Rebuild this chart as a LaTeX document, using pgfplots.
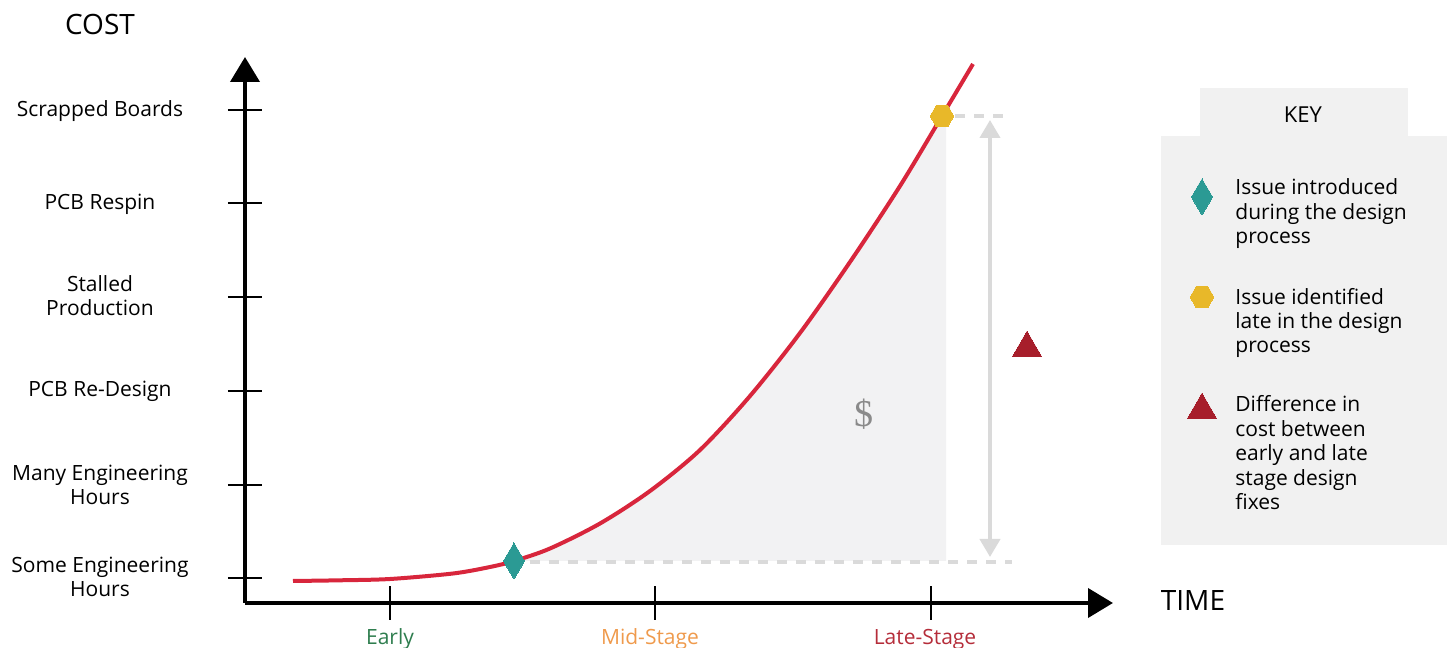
\documentclass[border=0pt]{standalone}
\usepackage{pgfplots}
\pgfplotsset{compat=1.18}
\usepackage{fontspec}
\setmainfont{Open Sans}
\usetikzlibrary{arrows.meta}
\definecolor{cRed}{HTML}{D8263C}
\definecolor{cTeal}{HTML}{2B9A94}
\definecolor{cYellow}{HTML}{E8B829}
\definecolor{cDark}{HTML}{A71E2B}
\definecolor{cFill}{HTML}{F2F2F3}
\definecolor{cKey}{HTML}{F1F1F1}
\definecolor{cDash}{HTML}{DADADA}
\definecolor{cEarly}{HTML}{2E7D4E}
\definecolor{cMid}{HTML}{EF9A4C}
\definecolor{cLate}{HTML}{B52D3A}
\definecolor{cDollar}{HTML}{8A8A8A}

\pgfdeclareplotmark{hexagon*}{%
  \pgfpathmoveto{\pgfqpointpolar{0}{\pgfplotmarksize}}%
  \pgfpathlineto{\pgfqpointpolar{60}{\pgfplotmarksize}}%
  \pgfpathlineto{\pgfqpointpolar{120}{\pgfplotmarksize}}%
  \pgfpathlineto{\pgfqpointpolar{180}{\pgfplotmarksize}}%
  \pgfpathlineto{\pgfqpointpolar{240}{\pgfplotmarksize}}%
  \pgfpathlineto{\pgfqpointpolar{300}{\pgfplotmarksize}}%
  \pgfpathclose
  \pgfusepathqfillstroke}

\newcommand{\lbl}[3]{\node[anchor=base, inner sep=0pt, font=\fontsize{10.5}{12.5}\selectfont] at (axis cs:#1,#2) {#3};}
\newcommand{\keytxt}[2]{\node[anchor=base west, inner sep=0pt, font=\fontsize{10.5}{12.5}\selectfont] at (axis cs:1235,#1) {#2};}

\begin{document}
\begin{tikzpicture}
\begin{axis}[
  scale only axis, width=434pt, height=273pt,
  xmin=245, xmax=1113, ymin=45, ymax=591,
  enlargelimits=false, clip=false,
  axis lines=left,
  axis line style={line width=2pt, black, -{Triangle[width=14.5pt,length=12.5pt]}},
  xtick={390,655,931}, ytick={70,163,257,351,445,538},
  xticklabels={}, yticklabels={},
  tick align=center, major tick length=17pt,
  tick style={line width=1pt, black},
]
% key box
\fill[cKey] (axis cs:1200,512) rectangle (axis cs:1408,560);
\fill[cKey] (axis cs:1161,103) rectangle (axis cs:1447,512);

% shaded cost area
\addplot[fill=cFill, draw=none] coordinates {
  (514,87) (550,99.5) (600,124.5) (650,157) (700,198) (750,252) (800,315)
  (850,386) (900,462) (942,532) (946,532) (946,87)};

% dashed reference lines
\addplot[cDash, line width=2pt, dash pattern=on 5pt off 4.5pt] coordinates {(530,86) (1012,86)};
\addplot[cDash, line width=2pt, dash pattern=on 5pt off 4.5pt] coordinates {(955,532) (1005,532)};

% double arrow
\addplot[color=cDash, line width=2pt, {Triangle[width=10pt,length=9pt]}-{Triangle[width=10pt,length=9pt]}]
  coordinates {(990,91) (990,528)};

% cost curve
\addplot[cRed, line width=2pt, smooth] coordinates {
  (293,67) (340,67.7) (390,69) (453,74.5) (490,81) (514,87) (550,99.5)
  (600,124.5) (650,157) (700,198) (750,252) (800,315) (850,386)
  (900,462) (942,532) (973,584)};

% markers on chart
\addplot[only marks, mark=diamond*, mark size=9pt, mark options={xscale=0.78, fill=cTeal, draw=cTeal, line width=0pt}] coordinates {(514,87)};
\addplot[only marks, mark=hexagon*, mark size=5.9pt, mark options={fill=cYellow, draw=cYellow, line width=0pt}] coordinates {(942,532)};
\addplot[only marks, mark=triangle*, mark size=8.4pt, mark options={fill=cDark, draw=cDark, line width=0pt}] coordinates {(1027,300)};

% key markers
\addplot[only marks, mark=diamond*, mark size=9pt, mark options={xscale=0.78, fill=cTeal, draw=cTeal, line width=0pt}] coordinates {(1202,451)};
\addplot[only marks, mark=hexagon*, mark size=5.9pt, mark options={fill=cYellow, draw=cYellow, line width=0pt}] coordinates {(1202,351)};
\addplot[only marks, mark=triangle*, mark size=8.4pt, mark options={fill=cDark, draw=cDark, line width=0pt}] coordinates {(1202,238)};

% dollar sign
\node[font=\fontspec{Liberation Serif}\fontsize{19}{19}\selectfont, text=cDollar] at (axis cs:864,234) {\$};

% axis titles
\node[anchor=base, inner sep=0pt, font=\fontsize{14}{16}\selectfont] at (axis cs:100,613) {COST};
\node[anchor=base, inner sep=0pt, font=\fontsize{14}{16}\selectfont] at (axis cs:1193,37) {TIME};

% y category labels
\lbl{100}{531}{Scrapped Boards}
\lbl{100}{438}{PCB Respin}
\lbl{100}{356}{Stalled}
\lbl{100}{332}{Production}
\lbl{100}{251}{PCB Re-Design}
\lbl{100}{167}{Many Engineering}
\lbl{100}{143}{Hours}
\lbl{100}{75}{Some Engineering}
\lbl{100}{51}{Hours}

% x category labels
\lbl{390}{3}{\textcolor{cEarly}{Early}}
\lbl{650}{3}{\textcolor{cMid}{Mid-Stage}}
\lbl{925}{3}{\textcolor{cLate}{Late-Stage}}

% key text
\node[anchor=base, inner sep=0pt, font=\fontsize{11}{13}\selectfont] at (axis cs:1303,525) {KEY};
\keytxt{453}{Issue introduced}
\keytxt{428.5}{during the design}
\keytxt{404}{process}
\keytxt{343.5}{Issue identified}
\keytxt{319.5}{late in the design}
\keytxt{295.5}{process}
\keytxt{236.5}{Difference in}
\keytxt{211.5}{cost between}
\keytxt{187.5}{early and late}
\keytxt{162.5}{stage design}
\keytxt{138.5}{fixes}

\coordinate (BL) at (axis cs:0,0);
\coordinate (TR) at (axis cs:1452,648);
\end{axis}
\pgfresetboundingbox
\path (BL) rectangle (TR);
\end{tikzpicture}
\end{document}
